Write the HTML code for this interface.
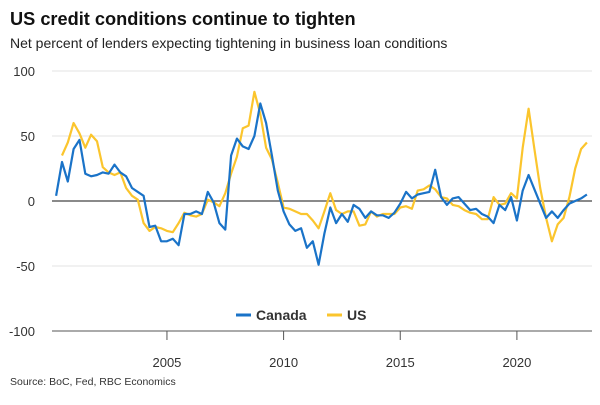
<!DOCTYPE html>
<html><head><meta charset="utf-8"><style>
html,body{margin:0;padding:0;background:#fff;}
body{width:600px;height:400px;overflow:hidden;font-family:"Liberation Sans",sans-serif;}
</style></head><body>
<svg id="chart" width="600" height="400" xmlns="http://www.w3.org/2000/svg" font-family="Liberation Sans, sans-serif">
<text x="10" y="25" font-size="18.2" font-weight="bold" fill="#111">US credit conditions continue to tighten</text>
<text x="10" y="48" font-size="14" fill="#222">Net percent of lenders expecting tightening in business loan conditions</text>
<g id="grid"></g>
<g id="series"></g>
<g>
<line x1="236" y1="315" x2="251" y2="315" stroke="#1a73c8" stroke-width="3"/>
<text x="256" y="320" font-size="14" font-weight="bold" fill="#333">Canada</text>
<line x1="327" y1="315" x2="342" y2="315" stroke="#fbc52d" stroke-width="3"/>
<text x="347" y="320" font-size="14" font-weight="bold" fill="#333">US</text>
</g>
<text x="10" y="385" font-size="10.5" fill="#333">Source: BoC, Fed, RBC Economics</text>
</svg>
<script>
const yTicks=[100,50,0,-50,-100];
const xTickYears=[2005,2010,2015,2020];
const canadaStart=2000.25;
const canada=[4,30,15,40,47,21,19,20,22,21,28,22,19,10,7,4,-20,-19,-31,-31,-29,-34,-10,-10,-8,-10,7,-1,-17,-22,35,48,42,40,50,75,60,35,8,-8,-18,-23,-21,-36,-31,-49,-25,-5,-17,-10,-16,-3,-6,-13,-8,-11,-11,-13,-9,-2,7,2,5,6,7,24,3,-3,2,3,-2,-7,-6,-10,-12,-17,-3,-7,3,-15,8,20,9,-2,-13,-8,-13,-7,-2,0,2,5];
const usStart=2000.5;
const us=[35,45,60,52,41,51,46,26,22,20,22,10,4,1,-17,-23,-20,-21,-23,-24,-17,-9,-11,-12,-10,1,-1,-4,6,21,34,56,58,84,67,41,32,14,-5,-6,-8,-10,-10,-15,-21,-8,6,-7,-10,-8,-8,-19,-18,-8,-12,-10,-10,-10,-5,-4,-6,8,9,12,9,3,2,-3,-4,-7,-9,-10,-14,-14,3,-3,-2,6,2,41,71,40,10,-13,-31,-18,-13,3,25,40,45];
const NS="http://www.w3.org/2000/svg";
const xS=t=>50.3+(t-2000)*23.33;
const yS=v=>201-v*1.3;
const grid=document.getElementById('grid');
function mk(tag,attrs,parent){const e=document.createElementNS(NS,tag);for(const k in attrs)e.setAttribute(k,attrs[k]);parent.appendChild(e);return e;}
yTicks.forEach(v=>{
  if(v!==-100){
    const l=mk('line',{x1:52,x2:592,y1:yS(v),y2:yS(v),stroke:v===0?'#444':'#e3e3e3','stroke-width':v===0?1.2:1},grid);
    
    
  }
  const t=mk('text',{x:35,y:yS(v)+5,'text-anchor':'end','font-size':13,fill:'#333'},grid);
  t.textContent=v;
  
  
});
const ax=mk('line',{x1:52,x2:592,y1:yS(-100),y2:yS(-100),stroke:'#555','stroke-width':1},grid);


xTickYears.forEach(yr=>{
  const tk=mk('line',{x1:xS(yr),x2:xS(yr),y1:yS(-100),y2:yS(-100)+9,stroke:'#555','stroke-width':1},grid);
  
  
  const t=mk('text',{x:xS(yr),y:367,'text-anchor':'middle','font-size':13,fill:'#333'},grid);
  t.textContent=yr;
  
  
});
const series=document.getElementById('series');
function line(vals,start,color,name){
  const d=vals.map((v,i)=>(i?'L':'M')+xS(start+i*0.25).toFixed(1)+','+yS(v).toFixed(1)).join('');
  const p=mk('path',{d:d,fill:'none',stroke:color,'stroke-width':2.2,'stroke-linejoin':'round'},series);
  
  
}
line(us,usStart,'#fbc52d','us-line');
line(canada,canadaStart,'#1a73c8','canada-line');
</script>
</body></html>
